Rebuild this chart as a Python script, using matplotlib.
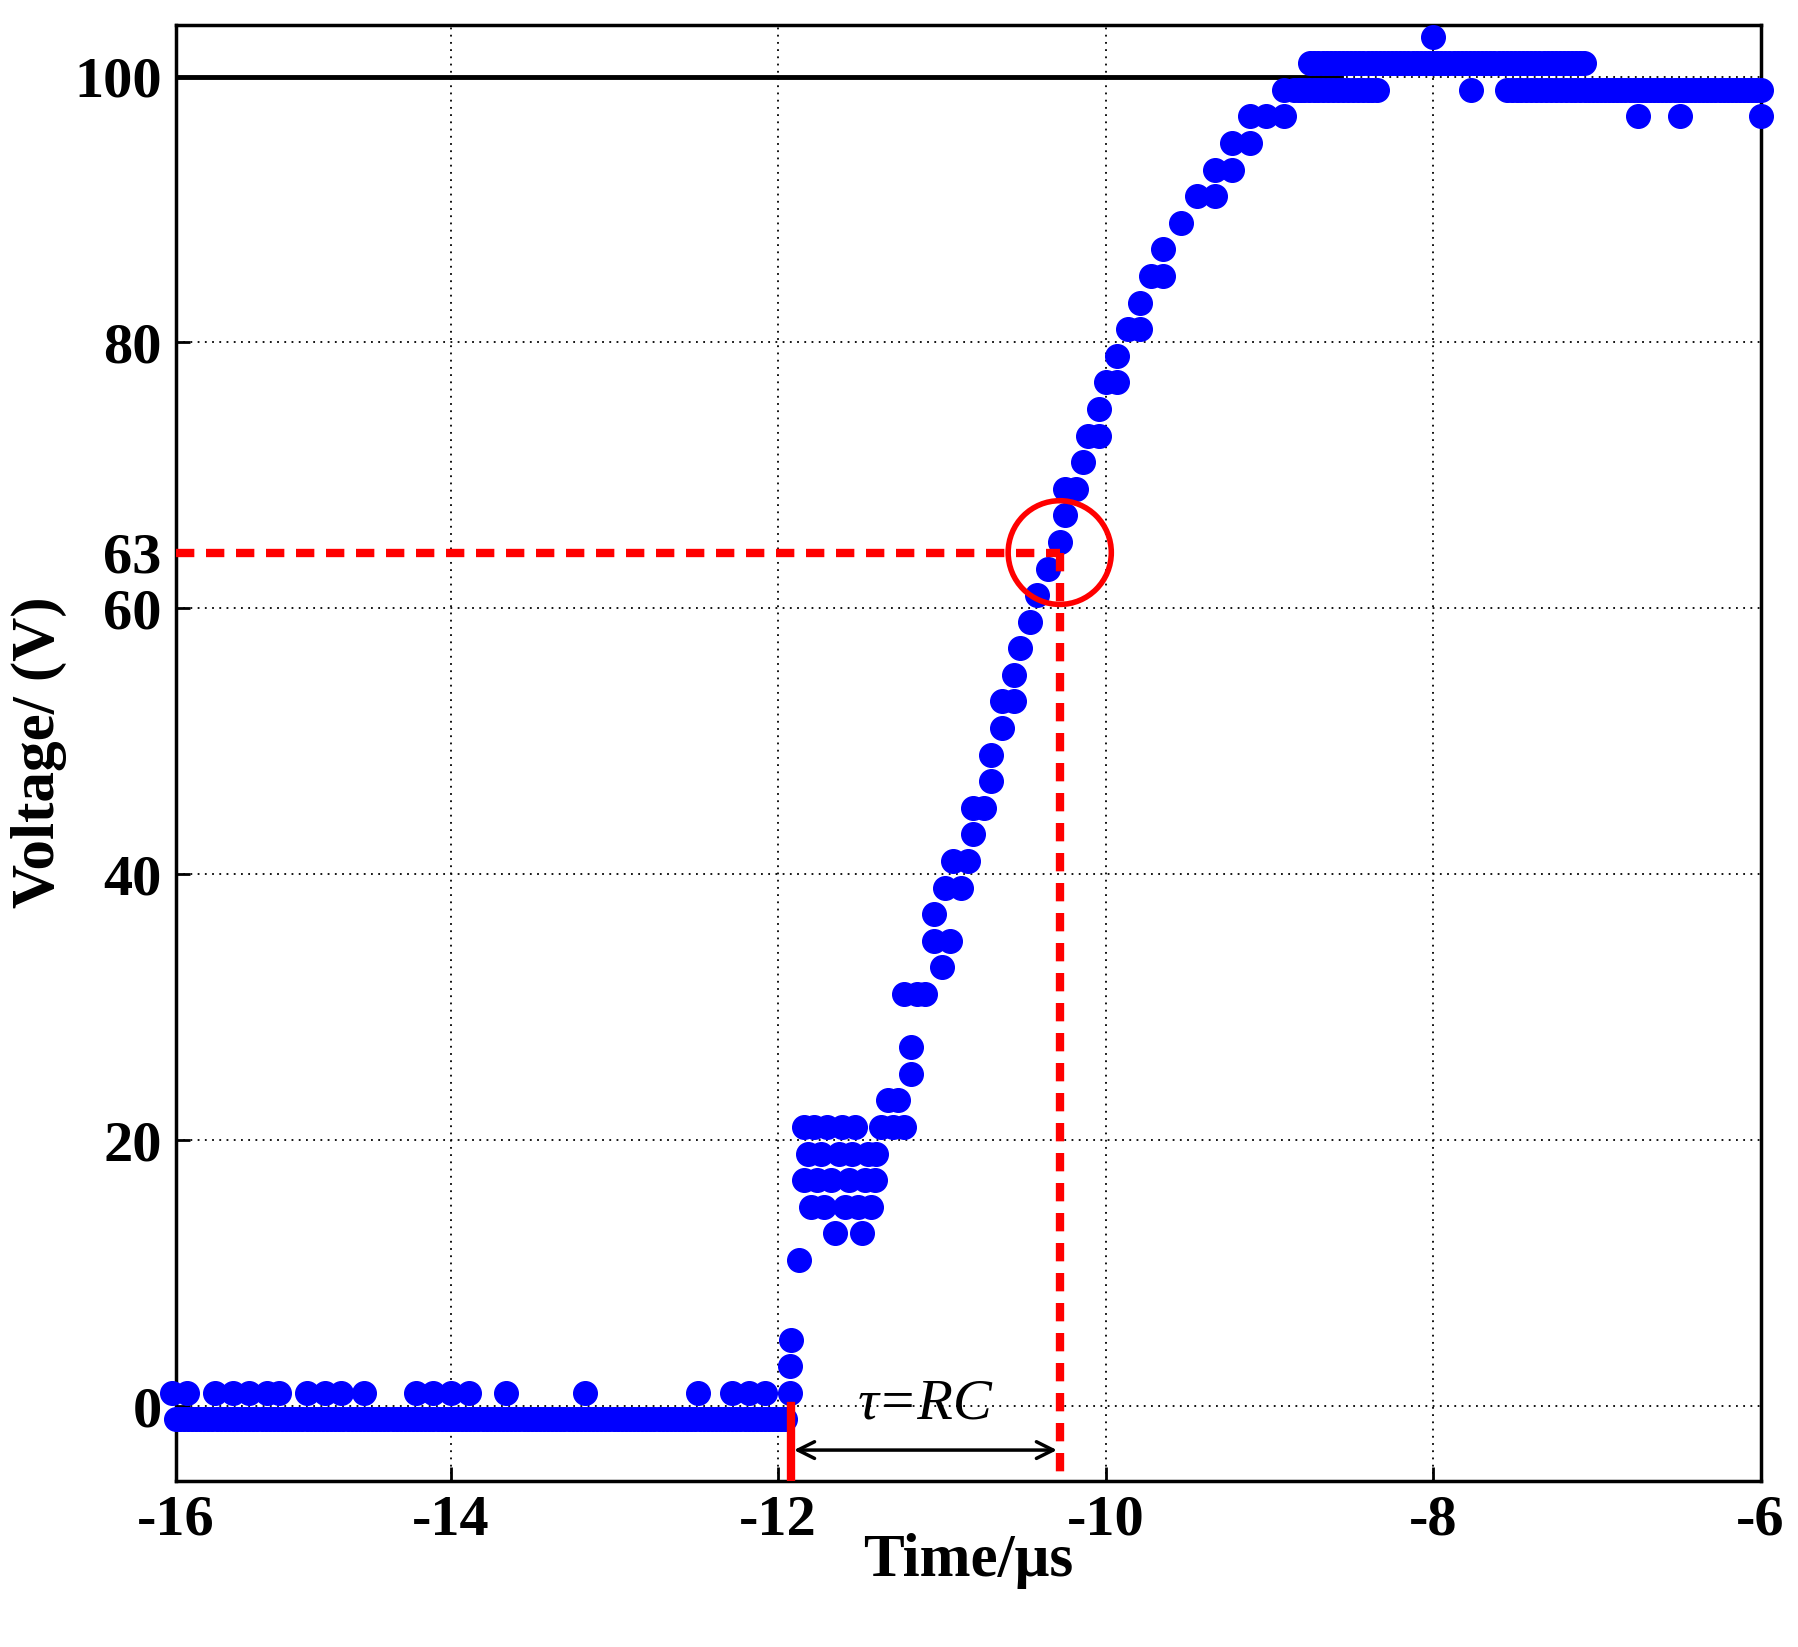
import numpy as np
import matplotlib
matplotlib.use("Agg")
import matplotlib.pyplot as plt
from matplotlib.patches import Ellipse

# ---- data ----
base_t = np.arange(-15.68, -11.94, 0.025)
base_v = [-1.0] * len(base_t)
base_hi_t = [-15.70, -15.61, -15.44, -15.33, -15.23, -15.12, -15.05, -14.88, -14.77, -14.67,
             -14.53, -14.21, -14.11, -14.00, -13.89, -13.66, -13.18, -12.49, -12.28, -12.18, -12.08]
base_hi_v = [1] * len(base_hi_t)

rise_t = [-11.93, -11.93, -11.92, -11.87,
          -11.84, -11.84, -11.82, -11.80, -11.78, -11.76, -11.74, -11.72, -11.70, -11.68,
          -11.65, -11.63, -11.61, -11.59, -11.57, -11.55, -11.53, -11.51, -11.49, -11.47,
          -11.45, -11.43, -11.41, -11.40,
          -11.37, -11.33, -11.30, -11.27, -11.23, -11.19, -11.19,
          -11.23, -11.15, -11.10, -11.05, -11.05, -11.00, -10.95,
          -10.98, -10.93, -10.88, -10.84, -10.81, -10.81, -10.74,
          -10.70, -10.70, -10.63, -10.63, -10.56, -10.56, -10.52, -10.46,
          -10.42, -10.35, -10.28, -10.25, -10.25, -10.18,
          -10.14, -10.11, -10.04, -10.04, -10.00, -9.93, -9.93, -9.86, -9.79, -9.79,
          -9.72, -9.65, -9.65, -9.54, -9.44, -9.33, -9.33, -9.23, -9.23, -9.12, -9.12,
          -9.02, -8.91, -8.91, -8.81]
rise_v = [1, 3, 5, 11,
          21, 17, 19, 15, 21, 17, 19, 15, 21, 17,
          13, 19, 21, 15, 17, 19, 21, 15, 13, 17,
          19, 15, 17, 19,
          21, 23, 21, 23, 31, 25, 27,
          21, 31, 31, 35, 37, 33, 35,
          39, 41, 39, 41, 43, 45, 45,
          47, 49, 51, 53, 53, 55, 57, 59,
          61, 63, 65, 67, 69, 69,
          71, 73, 73, 75, 77, 77, 79, 81, 81, 83,
          85, 85, 87, 89, 91, 91, 93, 93, 95, 95, 97,
          97, 97, 99, 99]

top_t = np.arange(-8.75, -7.05, 0.025)
top_v = [101] * len(top_t)
top_lo_t = list(np.arange(-8.85, -8.33, 0.03)) + list(np.arange(-7.55, -7.05, 0.03)) + [-7.77]
top_lo_v = [99] * len(top_lo_t)
end_t = np.arange(-7.05, -5.99, 0.025)
end_v = [99] * len(end_t)
extra_t = [-8.0, -6.75, -6.49, -6.0]
extra_v = [103, 97, 97, 97]

tau_start, tau_end, v63 = -11.92, -10.28, 64.2
ref100_end = -8.56

# ---- plot ----
fig = plt.figure(figsize=(17.99, 16.47), dpi=100)
ax = fig.add_axes([0.0976, 0.101, 0.881, 0.884])
serif = ['Liberation Serif', 'DejaVu Serif']
ms = 17
for t, v in [(base_t, base_v), (base_hi_t, base_hi_v), (rise_t, rise_v), (top_t, top_v),
             (top_lo_t, top_lo_v), (end_t, end_v), (extra_t, extra_v)]:
    ax.plot(t, v, 'o', color='#0000ff', ms=ms, mec='#0000ff', clip_on=False, zorder=3)

ax.plot([-15.68, ref100_end], [100, 100], color='black', lw=3.5, zorder=2)
ax.plot([-15.68, tau_end], [v63, v63], '--', color='red', lw=6, dashes=(2.2, 1.4), zorder=4)
ax.plot([tau_end, tau_end], [v63, -5.6], '--', color='red', lw=6, dashes=(2.2, 1.4), zorder=4)
ax.plot([tau_start, tau_start], [0, -5.6], color='red', lw=6, zorder=4)
ax.annotate('', xy=(tau_start, -3.3), xytext=(tau_end, -3.3),
            arrowprops=dict(arrowstyle='<->', color='black', lw=2.5, mutation_scale=30), zorder=5)
ax.text(-11.1, -1.8, 'τ=RC', fontsize=42, ha='center', va='bottom',
        family=serif, style='italic')
ax.add_patch(Ellipse((tau_end, v63), 0.63, 7.8, fill=False, ec='red', lw=4, zorder=5))

ax.set_xlim(-15.68, -6)
ax.set_ylim(-5.6, 103.9)
ax.set_xticks([-15.68, -14, -12, -10, -8, -6])
ax.set_xticklabels(['-16', '-14', '-12', '-10', '-8', '-6'])
ax.set_yticks([0, 20, 40, 60, 80, 100])
ax.set_yticklabels(['0', '20', '40', '60', '80', '100'])
ax.set_yticks([v63], labels=['63'], minor=True)
ax.tick_params(axis='y', which='minor', length=0, pad=10)
ax.grid(True, which='major', linestyle=(0, (1, 3)), color='black', lw=1.3)
for lab in ax.get_xticklabels() + ax.get_yticklabels() + ax.get_yticklabels(minor=True):
    lab.set_fontfamily(serif)
    lab.set_fontweight('bold')
    lab.set_fontsize(42)
ax.tick_params(which='major', direction='in', length=10, width=2, pad=10)
for s in ax.spines.values():
    s.set_linewidth(2.5)
ax.set_xlabel('Time/μs', fontsize=44, fontweight='bold', family=serif, labelpad=-10)
ax.set_ylabel('Voltage/ (V)', fontsize=44, fontweight='bold', family=serif, labelpad=5)
fig.savefig('out.png', dpi=100)
